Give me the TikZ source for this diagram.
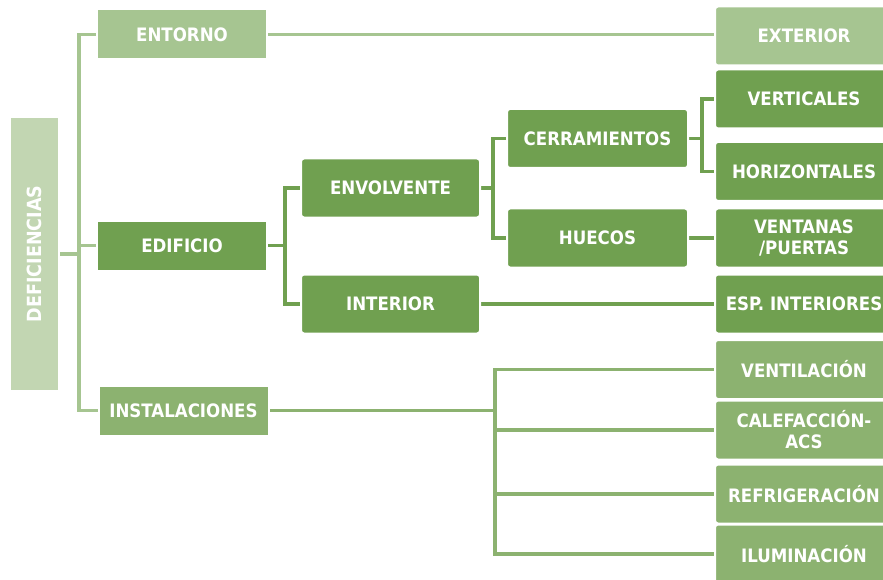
\documentclass[tikz,border=0pt]{standalone}
\usepackage{fontspec}
\setmainfont{DejaVu Sans Condensed}[BoldFont=DejaVu Sans Condensed Bold]
\usetikzlibrary{backgrounds}
\definecolor{rootgreen}{HTML}{C2D6B2}
\definecolor{lightgreen}{HTML}{A6C591}
\definecolor{midgreen}{HTML}{8CB270}
\definecolor{darkgreen}{HTML}{70A050}
\tikzset{
  box/.style={rectangle, draw=white, line width=2pt, text=white,
    font=\fontsize{18.5}{21}\selectfont\bfseries, align=center,
    minimum width=170pt, minimum height=50pt, inner sep=0pt},
  leaf/.style={box, rounded corners=3pt, minimum width=178pt, minimum height=59pt},
  link/.style={line width=3.8pt}
}
\begin{document}
\begin{tikzpicture}[x=1pt, y=-1pt]
  \clip (0,0) rectangle (883,580);
  \node[box, fill=rootgreen, rotate=90, minimum width=274pt, minimum height=49pt,
    font=\fontsize{19.5}{21}\selectfont\bfseries] (root) at (34.5,254) {DEFICIENCIAS};
  \node[box, fill=lightgreen] (entorno) at (182,34.5) {ENTORNO};
  \node[box, fill=darkgreen] (edificio) at (182,245.5) {EDIFICIO};
  \node[box, fill=midgreen] (instal) at (183.5,410.5) {INSTALACIONES};
  \node[leaf, fill=darkgreen, minimum width=179pt] (envol) at (390.5,188) {ENVOLVENTE};
  \node[leaf, fill=darkgreen, minimum width=179pt] (interior) at (390.5,304) {INTERIOR};
  \node[leaf, fill=darkgreen, minimum width=181pt] (cerram) at (597.5,138.5) {CERRAMIENTOS};
  \node[leaf, fill=darkgreen, minimum width=181pt] (huecos) at (597.5,238) {HUECOS};
  \node[leaf, fill=lightgreen] (exterior) at (804,36) {EXTERIOR};
  \node[leaf, fill=darkgreen] (vert) at (804,99) {VERTICALES};
  \node[leaf, fill=darkgreen] (horiz) at (804,171.5) {HORIZONTALES};
  \node[leaf, fill=darkgreen] (ventanas) at (804,238) {VENTANAS\\/PUERTAS};
  \node[leaf, fill=darkgreen] (esp) at (804,304) {ESP. INTERIORES};
  \node[leaf, fill=midgreen] (ventil) at (804,369.5) {VENTILACIÓN};
  \node[leaf, fill=midgreen] (calef) at (804,430) {CALEFACCIÓN-\\ACS};
  \node[leaf, fill=midgreen] (refri) at (804,494) {REFRIGERACIÓN};
  \node[leaf, fill=midgreen] (ilum) at (804,554) {ILUMINACIÓN};
  \coordinate (j0) at (79,254);
  \coordinate (j1) at (285,245.5);
  \coordinate (j2) at (493,188);
  \coordinate (j3) at (702,138.5);
  \coordinate (j4) at (495,410.5);
  \begin{scope}[on background layer]
    \draw[link, lightgreen] (root.south) -- (j0);
    \draw[link, lightgreen] (entorno.west) -| (j0) |- (instal.west);
    \draw[link, lightgreen] (edificio.west) -- (edificio.west -| j0);
    \draw[link, lightgreen] (entorno.east) -- (entorno.east -| exterior.west);
    \draw[link, darkgreen] (edificio.east) -- (j1);
    \draw[link, darkgreen] (envol.west) -| (j1) |- (interior.west);
    \draw[link, darkgreen] (envol.east) -- (j2);
    \draw[link, darkgreen] (cerram.west) -| (j2) |- (huecos.west);
    \draw[link, darkgreen] (cerram.east) -- (j3);
    \draw[link, darkgreen] (vert.west) -| (j3) |- (horiz.west);
    \draw[link, darkgreen] (huecos.east) -- (ventanas.west);
    \draw[link, darkgreen] (interior.east) -- (esp.west);
    \draw[link, midgreen] (instal.east) -- (j4);
    \draw[link, midgreen] (ventil.west) -| (j4) |- (ilum.west);
    \draw[link, midgreen] (calef.west) -- (calef.west -| j4);
    \draw[link, midgreen] (refri.west) -- (refri.west -| j4);
  \end{scope}
\end{tikzpicture}
\end{document}
